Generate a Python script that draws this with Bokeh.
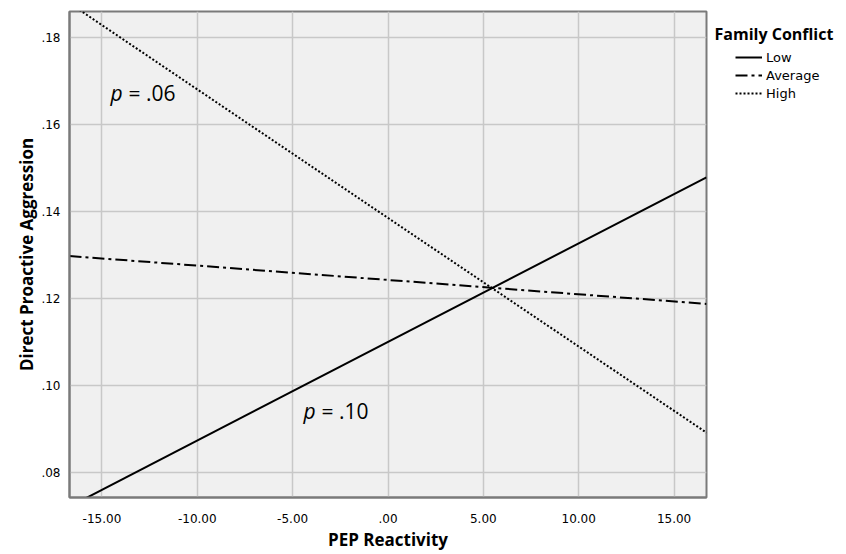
from bokeh.plotting import figure
from bokeh.layouts import row
from bokeh.models import (Range1d, FixedTicker, CustomJSTickFormatter, Label,
                          Legend, LegendItem)
from bokeh.embed import file_html
from bokeh.resources import INLINE

# ---- data ----
pep_x = [-16.7, 16.7]
low_y = [0.0722, 0.1479]
average_y = [0.1298, 0.1188]
high_y = [0.1879, 0.0892]
x_ticks = [-15, -10, -5, 0, 5, 10, 15]
y_ticks = [0.08, 0.10, 0.12, 0.14, 0.16, 0.18]
series_names = ["Low", "Average", "High"]
legend_title = "Family Conflict"
p_texts = ["= .06", "= .10"]

H = 554
TOP = 11
BOTTOM = 57
p = figure(width=708, height=H, output_backend="svg", toolbar_location=None,
           x_range=Range1d(-16.7, 16.7), y_range=Range1d(0.0743, 0.186),
           min_border_left=69, min_border_right=2, min_border_top=TOP,
           min_border_bottom=BOTTOM)

p.background_fill_color = "#f0f0f0"
p.border_fill_color = "white"
p.outline_line_color = "#7a7a7a"
p.outline_line_width = 2

for ax in (p.xaxis[0], p.yaxis[0]):
    ax.axis_line_color = "#7a7a7a"
    ax.axis_line_width = 2
    ax.major_tick_line_color = None
    ax.minor_tick_line_color = None
    ax.major_label_text_font = "DejaVu Sans"
    ax.major_label_text_font_size = "12px"
    ax.major_label_text_color = "black"
    ax.axis_label_text_font = "Open Sans"
    ax.axis_label_text_font_style = "bold"
    ax.axis_label_text_font_size = "17px"
    ax.axis_label_text_color = "black"

p.xaxis.ticker = FixedTicker(ticks=x_ticks)
p.yaxis.ticker = FixedTicker(ticks=y_ticks)
fmt = CustomJSTickFormatter(code="return tick.toFixed(2).replace(/^(-?)0\\./, '$1.');")
p.xaxis.formatter = fmt
p.yaxis.formatter = fmt
p.xaxis.axis_label = "PEP Reactivity"
p.yaxis.axis_label = "Direct Proactive Aggression"
p.xaxis.major_label_standoff = 10
p.xaxis.axis_label_standoff = 2
p.yaxis.major_label_standoff = 3
p.yaxis.axis_label_standoff = 0

for g in (p.xgrid[0], p.ygrid[0]):
    g.grid_line_color = "#c8c8c8"
    g.grid_line_width = 1.5
p.xgrid.ticker = FixedTicker(ticks=x_ticks)
p.ygrid.ticker = FixedTicker(ticks=y_ticks)

styles = [dict(line_dash="solid"), dict(line_dash="12 4 3 4"), dict(line_dash="2 2")]
series = [low_y, average_y, high_y]
for ys, st in zip(series, styles):
    p.line(pep_x, ys, line_color="black", line_width=2, **st)

for (lx, ly), t in zip([(-14.55, 0.1672), (-4.43, 0.0941)], p_texts):
    p.add_layout(Label(x=lx, y=ly, text="p", text_font="Open Sans",
                       text_font_style="italic", text_font_size="21px",
                       text_baseline="middle", text_color="black"))
    p.add_layout(Label(x=lx, y=ly, x_offset=18, text=t, text_font="Open Sans",
                       text_font_size="21px", text_baseline="middle",
                       text_color="black"))

# ---- legend panel (frame aligned with the main plot's frame) ----
LW = 130
FH = H - TOP - BOTTOM
QX0, QY0 = 100, 1000   # ranges placed away from the data so the legend's lines stay hidden
q = figure(width=LW, height=H, output_backend="svg", toolbar_location=None,
           x_range=Range1d(QX0, QX0 + LW), y_range=Range1d(QY0, QY0 + FH),
           x_axis_location=None, y_axis_location=None,
           min_border_left=0, min_border_right=0, min_border_bottom=BOTTOM,
           min_border_top=TOP, outline_line_color=None)
q.grid.visible = False
q.background_fill_color = "white"
q.border_fill_color = "white"

hidden = [q.line(pep_x, ys, line_color="black", line_width=2, **st)
          for ys, st in zip(series, styles)]

legend = Legend(items=[LegendItem(label=n, renderers=[r]) for n, r in zip(series_names, hidden)],
                location=(27, FH - 37 - 54), margin=0, padding=0, spacing=0,
                glyph_width=27, glyph_height=18, label_height=18,
                label_standoff=4, label_text_font="DejaVu Sans",
                label_text_font_size="13px", label_text_color="black",
                border_line_color=None, background_fill_alpha=0)
q.add_layout(legend, "center")
q.add_layout(Label(x=QX0 + 6, y=QY0 + FH - 22, text=legend_title, text_font="Open Sans",
                   text_font_style="bold", text_font_size="16px",
                   text_baseline="middle", text_color="black"))

layout = row(p, q, spacing=0)
open("out.html", "w").write(file_html(layout, INLINE))
